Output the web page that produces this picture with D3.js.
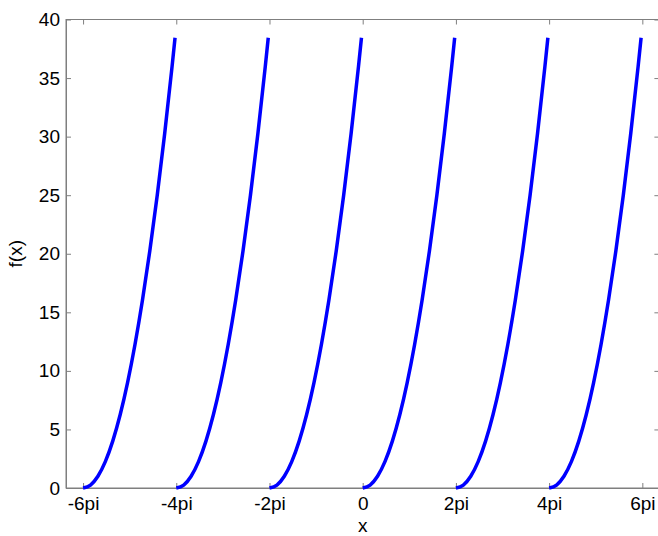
<!DOCTYPE html>
<html><head><meta charset="utf-8">
<script src="https://cdn.jsdelivr.net/npm/d3@7"></script>
<style>body{margin:0;background:#fff}svg{display:block}text{font-family:"Liberation Sans",Arial,sans-serif}</style>
</head><body>
<svg id="c" width="658" height="536"></svg>
<script>
// Period starts (multiples of pi) of each repeated segment
const periodStarts = [-6, -4, -2, 0, 2, 4];
// Offsets within a period (radians) and values
const segOffsets = [0, 0.5, 1.0, 1.5, 2.0, 2.5, 3.0, 3.5, 4.0, 4.5, 5.0, 5.5, 6.0, 6.2];
const segValues  = [0, 0.25, 1.0, 2.25, 4.0, 6.25, 9.0, 12.25, 16.0, 20.25, 25.0, 30.25, 36.0, 38.44];
const xTickPi = [-6, -4, -2, 0, 2, 4, 6];
const xTickLabels = ["-6pi", "-4pi", "-2pi", "0", "2pi", "4pi", "6pi"];
const yTicks = [0, 5, 10, 15, 20, 25, 30, 35, 40];

const svg = d3.select("#c");
const L = 66, R = 659.4, T = 19.5, B = 488;
const x = d3.scaleLinear().domain([-20, 20]).range([L, R]);
const y = d3.scaleLinear().domain([0, 40]).range([B, T]);
const axisColor = "#7f7f7f";
const FS = 19;

// frame
svg.append("rect").attr("x", L).attr("y", T).attr("width", R - L).attr("height", B - T)
  .attr("fill", "none").attr("stroke", axisColor).attr("stroke-width", 1);

const xt = xTickPi.map(v => v * Math.PI);
// bottom axis
const gx = svg.append("g").attr("transform", `translate(0,${B})`)
  .call(d3.axisBottom(x).tickValues(xt).tickSizeInner(-5).tickSizeOuter(0)
    .tickFormat((d, i) => xTickLabels[i]));
gx.select(".domain").attr("stroke", axisColor);
gx.selectAll(".tick line").attr("stroke", axisColor);
gx.selectAll(".tick text").attr("font-size", FS).attr("fill", "#000").attr("dy", "0.71em").attr("y", 9);
// top ticks
const gxt = svg.append("g").attr("transform", `translate(0,${T})`)
  .call(d3.axisTop(x).tickValues(xt).tickSizeInner(-5).tickSizeOuter(0).tickFormat(""));
gxt.select(".domain").remove();
gxt.selectAll(".tick line").attr("stroke", axisColor);

// left axis
const gy = svg.append("g").attr("transform", `translate(${L},0)`)
  .call(d3.axisLeft(y).tickValues(yTicks).tickSizeInner(-5).tickSizeOuter(0));
gy.select(".domain").attr("stroke", axisColor);
gy.selectAll(".tick line").attr("stroke", axisColor);
gy.selectAll(".tick text").attr("font-size", FS).attr("fill", "#000").attr("x", -6);
// right ticks
const gyr = svg.append("g").attr("transform", `translate(${R},0)`)
  .call(d3.axisRight(y).tickValues(yTicks).tickSizeInner(-5).tickSizeOuter(0).tickFormat(""));
gyr.select(".domain").remove();
gyr.selectAll(".tick line").attr("stroke", axisColor);

// curves
const line = d3.line().x(d => x(d[0])).y(d => y(d[1])).curve(d3.curveMonotoneX);
periodStarts.forEach(p => {
  const pts = segOffsets.map((o, i) => [p * Math.PI + o, segValues[i]]);
  svg.append("path").attr("d", line(pts)).attr("fill", "none")
    .attr("stroke", "#0000ff").attr("stroke-width", 3.5);
});

// axis labels
svg.append("text").attr("x", x(0)).attr("y", 532).attr("text-anchor", "middle")
  .attr("font-size", FS).text("x");
svg.append("text").attr("transform", `translate(22,${(T + B) / 2}) rotate(-90)`)
  .attr("text-anchor", "middle").attr("font-size", FS).text("f(x)");
</script>
</body></html>
